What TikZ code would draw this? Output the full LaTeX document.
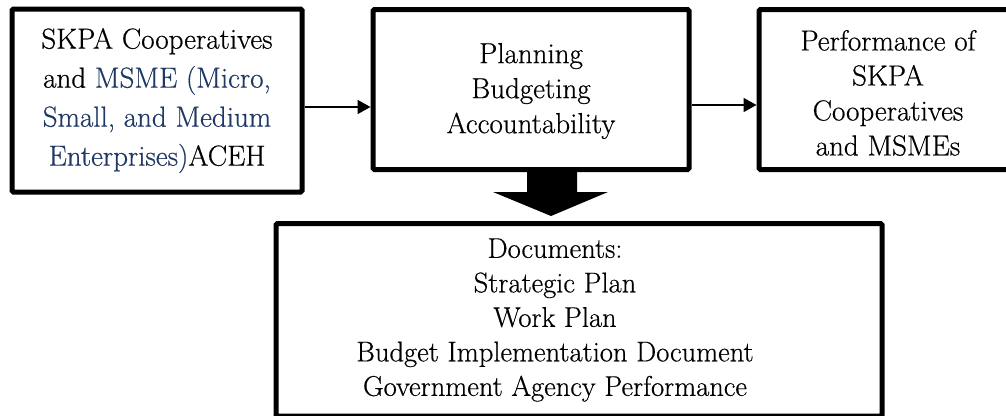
\documentclass[tikz,border=0pt]{standalone}
\usepackage{fontspec}
\setmainfont{Latin Modern Roman}[FakeBold=0.5]
\usetikzlibrary{arrows.meta}
\definecolor{msmeblue}{HTML}{1F3864}
\begin{document}
\begin{tikzpicture}[x=1pt,y=-1pt,
  box/.style={draw=black, line width=5pt, fill=white, inner sep=0pt, align=center,
    rounded corners=1.5pt},
  txt/.style={inner sep=0pt, align=center},
  flow/.style={line width=1.8pt, -{Triangle[length=13pt,width=14pt]}},
  bigarrow/.style={fill=black, draw=none}]
\useasboundingbox (0,0) rectangle (1006,415);
\clip (0,0) rectangle (1006,415);
\fill[white] (0,0) rectangle (1006,415);

% left: the SKPA cooperatives and MSMEs
\node[box, minimum width=290pt, minimum height=183pt,
  font=\fontsize{29}{39}\selectfont] (src) at (157,100.5)
  {SKPA Cooperatives\\
   and {\color{msmeblue}MSME (Micro,}\\
   {\color{msmeblue}Small, and Medium}\\
   {\color{msmeblue}Enterprises)}ACEH};

% middle: planning, budgeting and accountability
\node[box, minimum width=316pt, minimum height=160pt] (plan) at (531,89.5) {};
\node[txt, font=\fontsize{29}{35}\selectfont] (plantxt) at (531,91)
  {Planning\\ Budgeting\\ Accountability};

% right: performance (runs past the right margin)
\node[box, minimum width=258pt, minimum height=160pt] (perf) at (888,89.5) {};
\node[txt, font=\fontsize{29}{35}\selectfont] (perftxt) at (888,93)
  {Performance of\\ SKPA\\ Cooperatives\\ and MSMEs};

% bottom: the planning documents (lower edge cut by the margin)
\node[box, minimum width=606pt, minimum height=192.5pt] (docbox) at (579,319.75) {};
\node[txt, font=\fontsize{28.5}{34.5}\selectfont] (docs) at (555,320)
  {Documents:\\ Strategic Plan\\ Work Plan\\ Budget Implementation Document\\ Government Agency Performance};

% flow arrows
\draw[flow] (src.east |- 0,107) -- (plan.west |- 0,107);
\draw[flow] (plan.east |- 0,105) -- (perf.west |- 0,105);

% block arrow from the middle box down to the documents
\path[bigarrow] (527,170) -- (577,170) -- (577,192) -- (608,192) -- (551,216)
  -- (493,192) -- (527,192) -- cycle;
\end{tikzpicture}
\end{document}
